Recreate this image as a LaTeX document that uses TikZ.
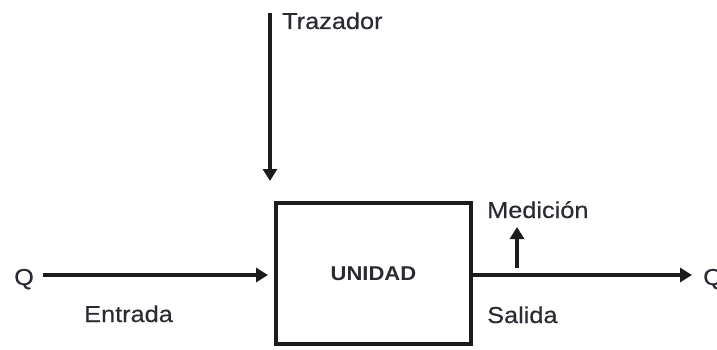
\documentclass[tikz,border=0pt]{standalone}
\usepackage{fontspec}
\setmainfont{Liberation Sans}[FakeStretch=1.1,UprightFeatures={FakeBold=0.4}]
\usetikzlibrary{arrows.meta}
\definecolor{ink}{HTML}{1E1C1A}
\definecolor{txt}{HTML}{2A2A33}
\begin{document}
\begin{tikzpicture}[x=1pt,y=-1pt,
  arr/.style={draw=ink,line width=4pt,-{Triangle[length=12pt,width=14pt]}},
  lbl/.style={anchor=base west,inner sep=0pt,text=txt,font=\fontsize{23}{26}\selectfont},
  unitbox/.style={draw=ink,line width=4pt,minimum width=195pt,minimum height=141pt,inner sep=0pt,
    text=txt,font=\fontsize{20}{22}\selectfont\bfseries}]
\useasboundingbox (0,0) rectangle (717,350);
\node[unitbox] (unit) at (373.5,273.5) {UNIDAD};
% tracer
\coordinate (tz0) at (270,13);
\coordinate (tz1) at (270,181);
\draw[arr] (tz0) -- (tz1);
\node[lbl] (trazador) at (282,29) {Trazador};
% input
\node[lbl] (qin) at (14,285) {Q};
\coordinate (in0) at (43,275);
\coordinate (in1) at (268,275);
\draw[arr] (in0) -- (in1);
\node[lbl] (entrada) at (84,322) {Entrada};
% output
\node[lbl] (qout) at (703,285) {Q};
\coordinate (out1) at (692,275);
\draw[arr] (unit.east |- in0) -- (out1);
\node[lbl] (salida) at (487,323) {Salida};
% measurement
\coordinate (m0) at (517,268);
\coordinate (m1) at (517,227);
\draw[arr] (m0) -- (m1);
\node[lbl] (medicion) at (487,218) {Medición};
\end{tikzpicture}
\end{document}
